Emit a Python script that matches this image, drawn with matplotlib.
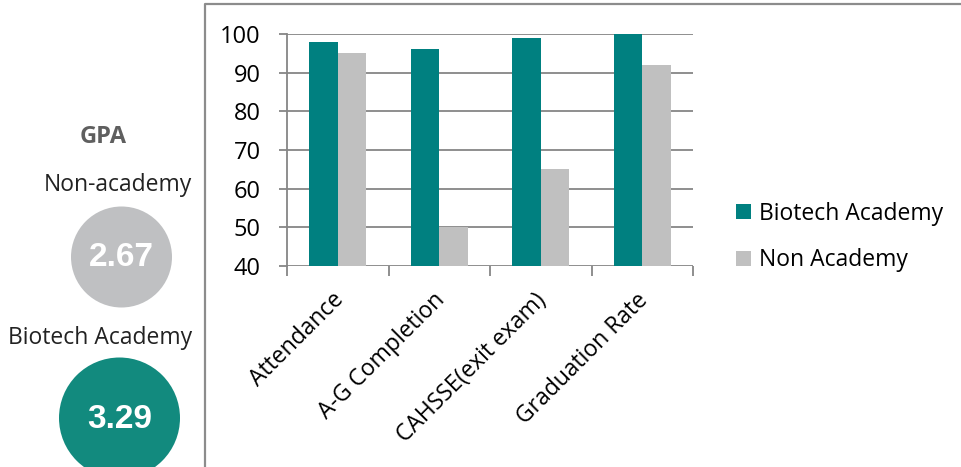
import numpy as np
import matplotlib.pyplot as plt
import matplotlib.transforms as mtransforms
from matplotlib.patches import Circle

categories = ["Attendance", "A-G Completion", "CAHSSE(exit exam)", "Graduation Rate"]
biotech = [98, 96, 99, 100]
non_academy = [95, 50, 65, 92]
gpa_labels = ["Non-academy", "Biotech Academy"]
gpa_values = ["2.67", "3.29"]

teal = "#008080"
gray = "#C0C0C0"
grid_c = "#868686"
font = "Open Sans"

fig = plt.figure(figsize=(9.61, 4.67), dpi=100)

# background layer in pixel coordinates, for the frame and the GPA circles
bg = fig.add_axes([0, 0, 1, 1])
bg.set_xlim(0, 961)
bg.set_ylim(467, 0)
bg.axis("off")
bg.plot([205, 205, 961], [467, 4, 4], color="#8c8c8c", lw=1.6)

bg.text(103, 137, "GPA", ha="center", va="center", fontsize=17, fontweight="bold",
        color="#5f5f5f", family=font)
bg.text(192, 185, gpa_labels[0], ha="right", va="center", fontsize=16.5, color="#222222", family=font)
bg.add_patch(Circle((121.5, 257), 50.5, color="#BFC0C2", lw=0))
bg.text(121.5, 258, gpa_values[0], ha="center", va="center", fontsize=24, fontweight="bold",
        color="white", family="Liberation Sans")
bg.text(192, 338, gpa_labels[1], ha="right", va="center", fontsize=16.5, color="#222222", family=font)
bg.add_patch(Circle((119.5, 418), 60.5, color="#128A7E", lw=0))
bg.text(119.5, 420, gpa_values[1], ha="center", va="center", fontsize=24, fontweight="bold",
        color="white", family="Liberation Sans")

ax = fig.add_axes([287 / 961, 1 - 266 / 467, 406 / 961, 232 / 467])
x = np.arange(len(categories))
w = 0.28
ax.bar(x - w / 2, biotech, w, color=teal, label="Biotech Academy", zorder=3)
ax.bar(x + w / 2, non_academy, w, color=gray, label="Non Academy", zorder=3)

ax.set_ylim(40, 100)
ax.set_xlim(-0.5, len(categories) - 0.5)
ax.set_yticks(range(40, 101, 10))
ax.yaxis.grid(True, color=grid_c, lw=1.3, zorder=0)
for s in ["top", "right", "bottom"]:
    ax.spines[s].set_visible(False)
ax.spines["left"].set_color(grid_c)
ax.spines["left"].set_linewidth(1.3)
ax.tick_params(axis="y", length=6, width=1.3, color=grid_c, labelsize=17, pad=13)
for t in ax.get_yticklabels():
    t.set_family(font)

ax.set_xticks(x)
ax.set_xticklabels(categories, rotation=45, ha="right", rotation_mode="anchor",
                   fontsize=16.5, family=font)
ax.tick_params(axis="x", length=0, pad=16)
shift = mtransforms.ScaledTranslation(-6 / 100, 0, fig.dpi_scale_trans)
for t in ax.get_xticklabels():
    t.set_transform(t.get_transform() + shift)
# category separator ticks below the axis
ax.set_xticks(np.arange(-0.5, len(categories)), minor=True)
ax.tick_params(axis="x", which="minor", length=7, width=1.3, color=grid_c)

leg = fig.legend(loc="center left", bbox_to_anchor=(715 / 961, 1 - 237 / 467), frameon=False,
                 prop={"family": font, "size": 16.5}, handlelength=0.65, handleheight=0.65,
                 handletextpad=0.35, labelspacing=1.0)

fig.savefig("out.png", dpi=100)
